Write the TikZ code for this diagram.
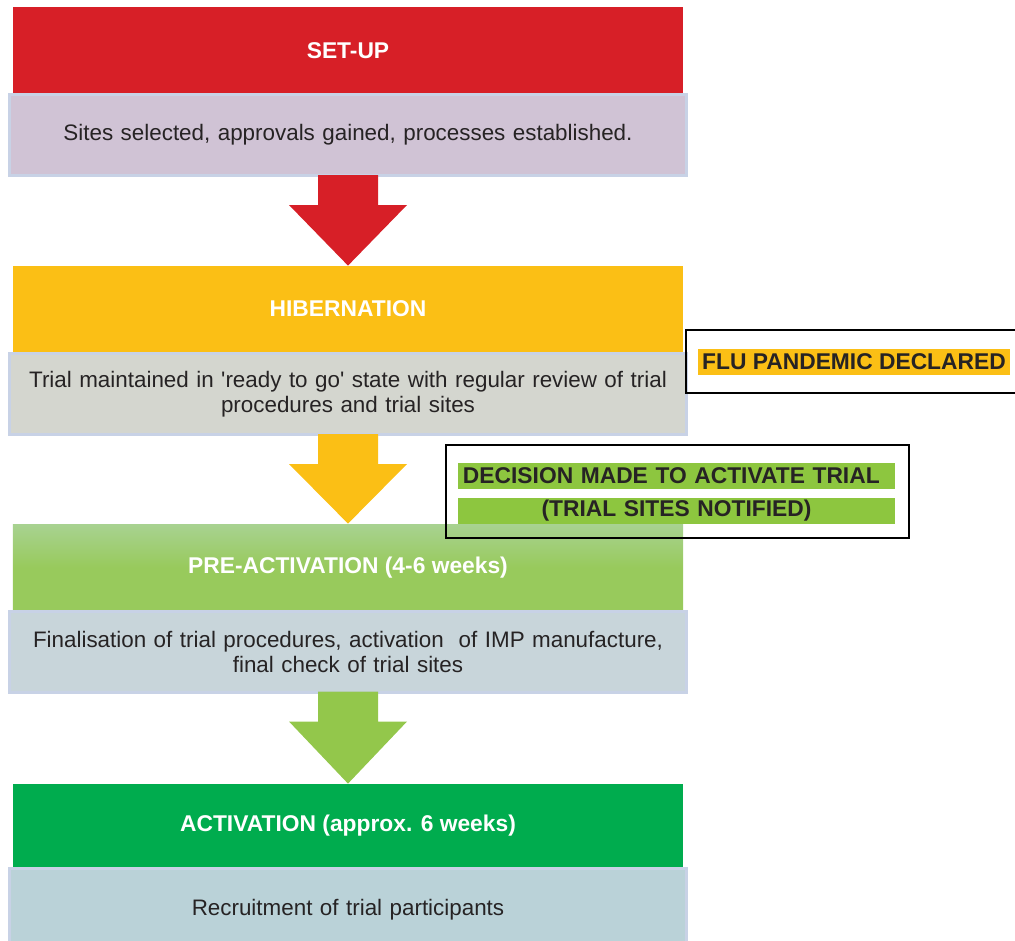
\documentclass[tikz,border=0pt]{standalone}
\usepackage{fontspec}
\setmainfont{Liberation Sans}
\usetikzlibrary{calc}
\definecolor{setupred}{HTML}{D71F27}
\definecolor{hibyellow}{HTML}{FBBF15}
\definecolor{preacttop}{HTML}{A8D291}
\definecolor{preactgreen}{HTML}{98CA5C}
\definecolor{arrowgreen}{HTML}{93C74B}
\definecolor{actgreen}{HTML}{00AC4E}
\definecolor{decgreen}{HTML}{8DC63F}
\definecolor{setupfill}{HTML}{D0C3D5}
\definecolor{hibfill}{HTML}{D4D6CF}
\definecolor{preactfill}{HTML}{C8D5DA}
\definecolor{actfill}{HTML}{BAD2D8}
\definecolor{descline}{HTML}{C8D2E6}
\definecolor{inkgray}{HTML}{262324}
\tikzset{
    phase/.style={minimum width=335bp, minimum height=#1, inner sep=0pt, text=white, font=\fontsize{11.4bp}{13bp}\selectfont\bfseries}, % kopfzeile einer phase
    phase desc/.style={fill=#1, draw=descline, line width=1.5bp, minimum width=338bp, minimum height=40.5bp, inner sep=0pt, text width=334bp, align=center, text=inkgray},
    event box/.style={draw=black, line width=1bp, inner sep=0pt},
    event text/.style={fill=#1, inner sep=0pt, minimum height=13bp, text=inkgray, font=\fontsize{11.4bp}{13bp}\selectfont\bfseries}
}

\begin{document}
\begin{tikzpicture}[x=0.5bp, y=0.5bp, font=\fontsize{11.2bp}{12.5bp}\selectfont]
    \clip (0,0) rectangle (1015,-941);

    \node[phase=44bp, fill=setupred] (setup) at (348,-51) {SET-UP};
    \node[phase desc=setupfill] (setupdesc) at (348,-135) {Sites selected, approvals gained, processes established.};

    \node[phase=43bp, fill=hibyellow] (hib) at (348,-309) {HIBERNATION};
    \node[phase desc=hibfill] (hibdesc) at (348,-394) {Trial maintained in \textquotesingle ready to go\textquotesingle\ state with regular review of trial\\procedures and trial sites};

    \node[phase=43.5bp, top color=preacttop, bottom color=preactgreen, middle color=preactgreen] (preact) at (348,-567.5) {PRE-ACTIVATION (4-6 weeks)};
    \node[phase desc=preactfill] (preactdesc) at (348,-651.5) {Finalisation of trial procedures, activation\ \ of IMP manufacture,\\final check of trial sites};

    \node[phase=42bp, fill=actgreen] (act) at (348,-826) {ACTIVATION (approx. 6 weeks)};
    \node[phase desc=actfill, minimum height=42bp] (actdesc) at (348,-910) {Recruitment of trial participants};

    \foreach \a/\b/\c in {setupdesc/hib/setupred, hibdesc/preact/hibyellow, preactdesc/act/arrowgreen} {
        \fill[\c] ($(\a.south)+(-30,2)$) -- ($(\a.south)+(30,2)$) -- ($(\a.south)+(30,-28)$) -- ($(\a.south)+(59,-28)$)
            -- (\b.north) -- ($(\a.south)+(-59,-28)$) -- ($(\a.south)+(-30,-28)$) -- cycle;
    }

    \node[event box, minimum width=170bp, minimum height=31.5bp] (flubox) at (856,-361.5) {};
    \node[event text=hibyellow, minimum width=156bp] (flu) at (854,-361.5) {FLU PANDEMIC DECLARED};

    \node[event box, minimum width=231.5bp, minimum height=46.5bp] (decbox) at (677.5,-491.5) {};
    \node[event text=decgreen, text width=213.5bp, inner xsep=2.5bp, align=left] (dec1) at (676.5,-476) {\mbox{DECISION MADE TO ACTIVATE TRIAL}};
    \node[event text=decgreen, text width=213.5bp, inner xsep=2.5bp, align=center] (dec2) at (676.5,-511) {(TRIAL SITES NOTIFIED)};
\end{tikzpicture}
\end{document}
